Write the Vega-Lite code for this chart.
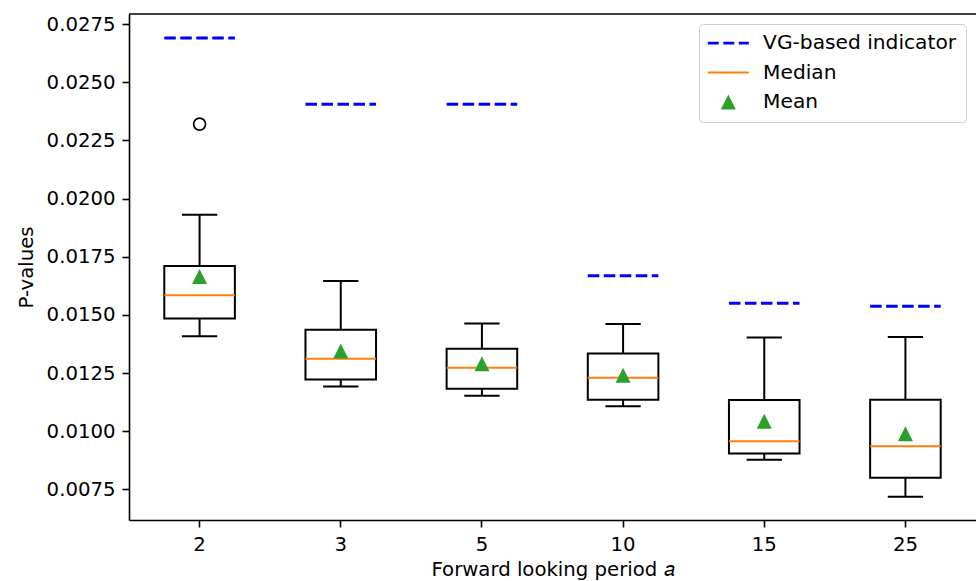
{
  "$schema": "https://vega.github.io/schema/vega-lite/v6.json",
  "width": 847,
  "height": 506,
  "autosize": {"type": "none"},
  "padding": {"left": 129, "top": 14, "right": 0, "bottom": 61},
  "background": "white",
  "config": {
    "view": {"stroke": null},
    "font": "DejaVu Sans",
    "axis": {
      "labelFont": "DejaVu Sans",
      "labelFontSize": 19.7,
      "labelColor": "black",
      "titleFont": "DejaVu Sans",
      "titleFontSize": 19.7,
      "titleFontWeight": "normal",
      "titleColor": "black",
      "domainColor": "black",
      "domainWidth": 1.6,
      "tickColor": "black",
      "tickWidth": 1.6,
      "tickSize": 7,
      "grid": false
    },
    "legend": {
      "labelFont": "DejaVu Sans",
      "labelFontSize": 20.2,
      "labelColor": "black",
      "labelLimit": 400,
      "labelOffset": 24.7,
      "symbolOffset": 10.2,
      "symbolSize": 400,
      "symbolStrokeWidth": 0,
      "symbolOpacity": 1,
      "rowPadding": 8.5,
      "padding": 9,
      "strokeColor": "#cccccc",
      "fillColor": "rgba(255,255,255,0.8)",
      "cornerRadius": 4,
      "offset": 10
    }
  },
  "datasets": {
    "boxes": [
      {"a": "2", "vg": 0.0269, "wlo": 0.01408, "q1": 0.01485, "med": 0.01585, "q3": 0.0171, "whi": 0.0193, "mean": 0.01665},
      {"a": "3", "vg": 0.02405, "wlo": 0.01192, "q1": 0.01222, "med": 0.01312, "q3": 0.01436, "whi": 0.01646, "mean": 0.01345},
      {"a": "5", "vg": 0.02405, "wlo": 0.01153, "q1": 0.01183, "med": 0.01273, "q3": 0.01355, "whi": 0.01463, "mean": 0.0129},
      {"a": "10", "vg": 0.01668, "wlo": 0.01108, "q1": 0.01136, "med": 0.0123, "q3": 0.01334, "whi": 0.01461, "mean": 0.01241},
      {"a": "15", "vg": 0.0155, "wlo": 0.00878, "q1": 0.00905, "med": 0.00957, "q3": 0.01134, "whi": 0.01403, "mean": 0.01043},
      {"a": "25", "vg": 0.01537, "wlo": 0.00719, "q1": 0.008, "med": 0.00936, "q3": 0.01136, "whi": 0.01405, "mean": 0.00989}
    ],
    "outliers": [
      {"a": "2", "value": 0.0232}
    ]
  },
  "layer": [
    {
      "data": {"name": "boxes"},
      "mark": {"type": "bar", "filled": false, "stroke": "black", "strokeWidth": 2, "width": {"band": 0.5}},
      "encoding": {
        "x": {
          "field": "a", "type": "ordinal", "sort": ["2", "3", "5", "10", "15", "25"],
          "scale": {"paddingInner": 0, "paddingOuter": 0},
          "axis": {"title": "Forward looking period 𝑎", "labelAngle": 0, "labelPadding": 7, "titlePadding": 6}
        },
        "y": {
          "field": "q1", "type": "quantitative",
          "scale": {"domain": [0.006188, 0.02793], "nice": false, "zero": false},
          "axis": {"title": "P-values", "values": [0.0075, 0.01, 0.0125, 0.015, 0.0175, 0.02, 0.0225, 0.025, 0.0275], "format": ".4f", "labelPadding": 7, "titlePadding": 10}
        },
        "y2": {"field": "q3"}
      }
    },
    {
      "data": {"name": "boxes"},
      "mark": {"type": "rule", "color": "black", "strokeWidth": 2},
      "encoding": {
        "x": {"field": "a", "type": "ordinal", "sort": ["2", "3", "5", "10", "15", "25"], "bandPosition": 0.5},
        "y": {"field": "wlo", "type": "quantitative"},
        "y2": {"field": "q1"}
      }
    },
    {
      "data": {"name": "boxes"},
      "mark": {"type": "rule", "color": "black", "strokeWidth": 2},
      "encoding": {
        "x": {"field": "a", "type": "ordinal", "sort": ["2", "3", "5", "10", "15", "25"], "bandPosition": 0.5},
        "y": {"field": "q3", "type": "quantitative"},
        "y2": {"field": "whi"}
      }
    },
    {
      "data": {"name": "boxes"},
      "mark": {"type": "rule", "color": "black", "strokeWidth": 2},
      "encoding": {
        "x": {"field": "a", "type": "ordinal", "sort": ["2", "3", "5", "10", "15", "25"], "bandPosition": 0.375},
        "x2": {"field": "a", "bandPosition": 0.625},
        "y": {"field": "wlo", "type": "quantitative"}
      }
    },
    {
      "data": {"name": "boxes"},
      "mark": {"type": "rule", "color": "black", "strokeWidth": 2},
      "encoding": {
        "x": {"field": "a", "type": "ordinal", "sort": ["2", "3", "5", "10", "15", "25"], "bandPosition": 0.375},
        "x2": {"field": "a", "bandPosition": 0.625},
        "y": {"field": "whi", "type": "quantitative"}
      }
    },
    {
      "data": {"name": "boxes"},
      "mark": {"type": "rule", "color": "#ff7f0e", "strokeWidth": 2},
      "encoding": {
        "x": {"field": "a", "type": "ordinal", "sort": ["2", "3", "5", "10", "15", "25"], "bandPosition": 0.25},
        "x2": {"field": "a", "bandPosition": 0.75},
        "y": {"field": "med", "type": "quantitative"}
      }
    },
    {
      "data": {"name": "boxes"},
      "mark": {"type": "rule", "color": "#0000ff", "strokeWidth": 3, "strokeDash": [11.5, 4.5]},
      "encoding": {
        "x": {"field": "a", "type": "ordinal", "sort": ["2", "3", "5", "10", "15", "25"], "bandPosition": 0.25},
        "x2": {"field": "a", "bandPosition": 0.75},
        "y": {"field": "vg", "type": "quantitative"}
      }
    },
    {
      "data": {"name": "outliers"},
      "mark": {"type": "point", "shape": "circle", "filled": false, "stroke": "black", "strokeWidth": 1.7, "size": 144, "opacity": 1},
      "encoding": {
        "x": {"field": "a", "type": "ordinal", "sort": ["2", "3", "5", "10", "15", "25"], "bandPosition": 0.5},
        "y": {"field": "value", "type": "quantitative"}
      }
    },
    {
      "data": {"name": "boxes"},
      "mark": {"type": "point", "filled": true, "size": 400, "opacity": 1, "strokeWidth": 0},
      "encoding": {
        "x": {"field": "a", "type": "ordinal", "sort": ["2", "3", "5", "10", "15", "25"], "bandPosition": 0.5},
        "y": {"field": "mean", "type": "quantitative"},
        "shape": {
          "datum": "Mean", "type": "nominal",
          "scale": {
            "domain": ["VG-based indicator", "Median", "Mean"],
            "range": [
              "M-2.05,-0.145H-0.95V0.145H-2.05Z M-0.5,-0.145H0.6V0.145H-0.5Z M1.05,-0.145H2.05V0.145H1.05Z",
              "M-2.05,-0.1H2.05V0.1H-2.05Z",
              "M0,-0.75L0.75,0.75L-0.75,0.75Z"
            ]
          },
          "legend": {"title": null, "orient": "top-right"}
        },
        "color": {
          "datum": "Mean", "type": "nominal",
          "scale": {
            "domain": ["VG-based indicator", "Median", "Mean"],
            "range": ["#0000ff", "#ff7f0e", "#2ca02c"]
          },
          "legend": {"title": null, "orient": "top-right"}
        }
      }
    },
    {
      "data": {"name": "outliers"},
      "mark": {"type": "rule", "color": "black", "strokeWidth": 1.6},
      "encoding": {
        "y": {"datum": 0.02793, "type": "quantitative"}
      }
    }
  ]
}
